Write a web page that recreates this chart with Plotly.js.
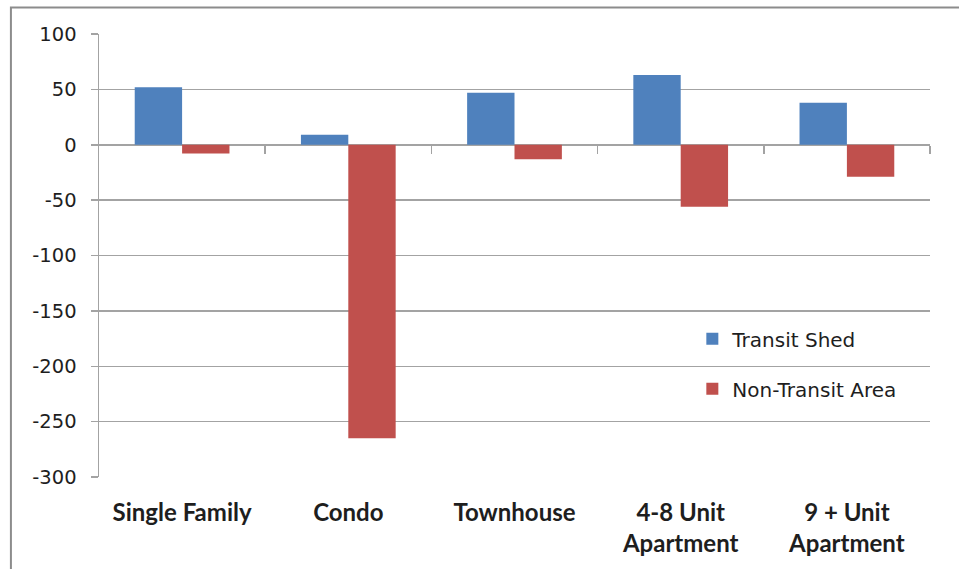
<!DOCTYPE html>
<html>
<head>
<meta charset="utf-8">
<script src="https://cdn.plot.ly/plotly-3.0.1.min.js"></script>
<style>
  html, body { margin: 0; padding: 0; background: #ffffff; }
  #chart { width: 959px; height: 569px; }
</style>
</head>
<body>
<div id="chart"></div>
<script>
// ---- Data ----
const categories = ["Single Family", "Condo", "Townhouse", "4-8 Unit<br>Apartment", "9 + Unit<br>Apartment"];
const seriesNames = ["Transit Shed", "Non-Transit Area"];
const transitShed = [52, 9, 47, 63, 38];
const nonTransitArea = [-8, -265, -13, -56, -29];
const yTickValues = [100, 50, 0, -50, -100, -150, -200, -250, -300];
const yTickLabels = ["100", "50", "0", "-50", "-100", "-150", "-200", "-250", "-300"];

// ---- Styles ----
const blue = "#4F81BD";
const red = "#C0504D";
const gridGray = "#a3a3a3";
const textColor = "#1e1e1e";

const boundaryTicks = categories.map((_, i) => i + 0.5);

const traces = [
  {
    type: "bar", name: seriesNames[0], x: categories, y: transitShed,
    marker: { color: blue }, legendgroup: "a", hoverinfo: "x+y+name"
  },
  {
    type: "bar", name: seriesNames[1], x: categories, y: nonTransitArea,
    marker: { color: red }, legendgroup: "b", hoverinfo: "x+y+name"
  },
  {
    type: "scatter", x: [], y: [], xaxis: "x2", showlegend: false, hoverinfo: "skip"
  }
];

const layout = {
  width: 959, height: 569,
  margin: { l: 99, r: 29, t: 34, b: 92, pad: 0 },
  paper_bgcolor: "#ffffff", plot_bgcolor: "#ffffff",
  font: { family: "DejaVu Sans, Verdana, sans-serif", size: 19, color: textColor },
  barmode: "group", bargap: 0.43, bargroupgap: 0,
  showlegend: true,
  legend: {
    x: 0.714, xanchor: "left", y: 0.356, yanchor: "top",
    font: { family: "DejaVu Sans, Verdana, sans-serif", size: 20, color: textColor },
    tracegroupgap: 21, bgcolor: "rgba(0,0,0,0)", traceorder: "grouped"
  },
  xaxis: {
    type: "category", tickvals: categories, ticktext: categories,
    ticks: "", showline: false, showgrid: false, zeroline: false,
    tickfont: { family: "Lato, 'Open Sans', sans-serif", size: 24, color: textColor, weight: "bold" },
    ticklabelstandoff: 19, fixedrange: true
  },
  xaxis2: {
    overlaying: "x", type: "linear", range: [-0.5, categories.length - 0.5],
    anchor: "free", position: 0.75,
    tickvals: boundaryTicks, ticks: "outside", ticklen: 8, tickwidth: 1.5, tickcolor: gridGray,
    showticklabels: false, showgrid: false, zeroline: false, showline: false
  },
  yaxis: {
    range: [-300, 100], tickvals: yTickValues, ticktext: yTickLabels,
    ticks: "outside", ticklen: 7, tickwidth: 1.5,
    tickcolor: gridGray, showline: true, linecolor: gridGray, linewidth: 1.5,
    showgrid: true, gridcolor: gridGray, gridwidth: 1.5,
    zeroline: true, zerolinecolor: gridGray, zerolinewidth: 1.5,
    tickfont: { family: "DejaVu Sans, Verdana, sans-serif", size: 19.5, color: textColor },
    ticklabelstandoff: 10, fixedrange: true
  },
  shapes: [
    {
      type: "rect", xref: "paper", yref: "paper",
      x0: -0.106, x1: 2, y0: -1, y1: 1.06,
      line: { color: "#8c8c8c", width: 2 }, fillcolor: "rgba(0,0,0,0)", layer: "below"
    }
  ]
};

Plotly.newPlot("chart", traces, layout, { displayModeBar: false, staticPlot: true });
</script>
</body>
</html>
